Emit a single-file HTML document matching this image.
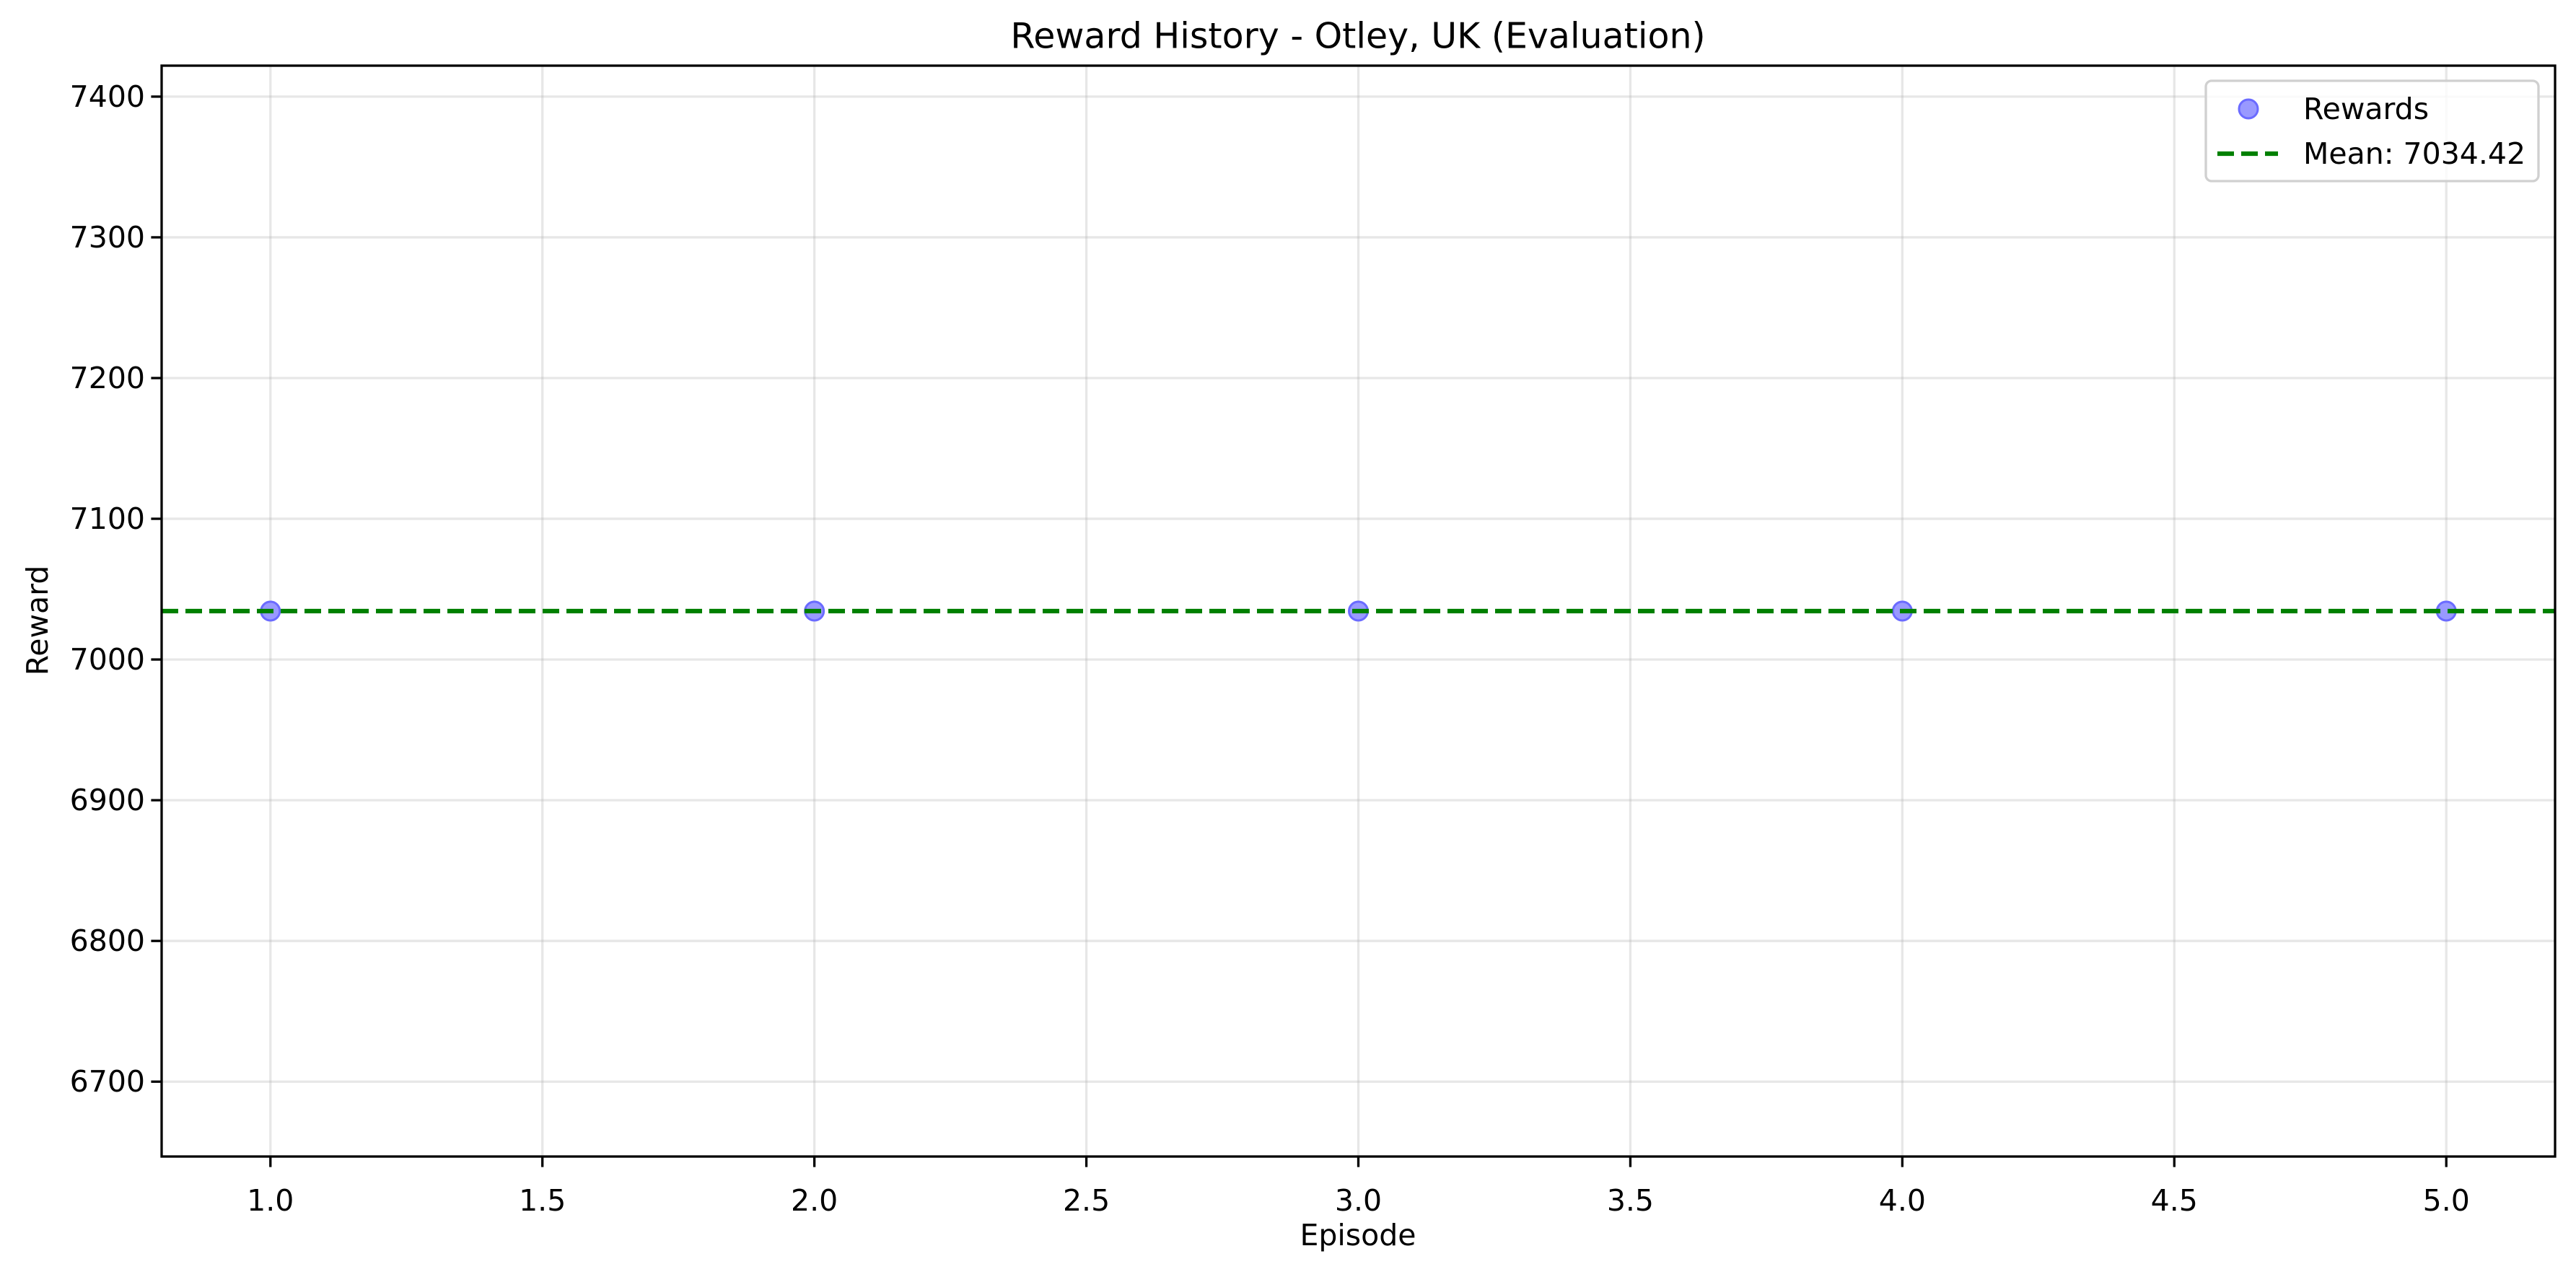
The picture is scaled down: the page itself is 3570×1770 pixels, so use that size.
<!DOCTYPE html>
<html><head><meta charset="utf-8"><style>
html,body{margin:0;padding:0;background:#fff;}
svg text{font-family:"DejaVu Sans","Liberation Sans",sans-serif;fill:#000;}
</style></head><body>
<svg id="chart" width="3570" height="1765" xmlns="http://www.w3.org/2000/svg">
<rect width="3570" height="1765" fill="#fff"/>
<g id="grid"></g>
<g id="marks"></g>
<g id="axes"></g>
<text x="1882" y="50" font-size="49" text-anchor="middle" dominant-baseline="central">Reward History - Otley, UK (Evaluation)</text>
<text x="1882" y="1712" font-size="41" text-anchor="middle" dominant-baseline="central">Episode</text>
<text x="52" y="860" font-size="41" text-anchor="middle" dominant-baseline="central" transform="rotate(-90 52 860)">Reward</text>
<g>
<rect x="3057" y="112" width="461" height="139" rx="8" fill="#fff" fill-opacity="0.8" stroke="#d0d0d0" stroke-width="3.3"/>
<circle cx="3116" cy="151" r="13" fill="#9999ff" stroke="#6b6bff" stroke-width="3"/>
<text x="3192" y="151" font-size="41" dominant-baseline="central">Rewards</text>
<line x1="3073" y1="213" x2="3157" y2="213" stroke="#008000" stroke-width="6.25" stroke-dasharray="23 10"/>
<text x="3192" y="213" font-size="41" dominant-baseline="central">Mean: 7034.42</text>
</g>
</svg>
<script>
const episodes = [1, 2, 3, 4, 5];
const rewards = [7034.42, 7034.42, 7034.42, 7034.42, 7034.42];
const meanValue = 7034.42;
const xTicks = [1.0, 1.5, 2.0, 2.5, 3.0, 3.5, 4.0, 4.5, 5.0];
const xTickLabels = ["1.0","1.5","2.0","2.5","3.0","3.5","4.0","4.5","5.0"];
const yTicks = [6700, 6800, 6900, 7000, 7100, 7200, 7300, 7400];
const yTickLabels = ["6700","6800","6900","7000","7100","7200","7300","7400"];

const L=224, R=3541, T=91, B=1603;
const xMin=0.8, xMax=5.2, yMin=6646.8, yMax=7422.0;
const sx=v=>L+(v-xMin)/(xMax-xMin)*(R-L);
const sy=v=>B-(v-yMin)/(yMax-yMin)*(B-T);
const NS="http://www.w3.org/2000/svg";
function mk(tag,attrs,parent){const e=document.createElementNS(NS,tag);for(const k in attrs)e.setAttribute(k,attrs[k]);parent.appendChild(e);return e;}
const grid=document.getElementById('grid'),marks=document.getElementById('marks'),axes=document.getElementById('axes');

xTicks.forEach((t,i)=>{
  const x=sx(t);
  const g=mk('line',{x1:x,y1:T,x2:x,y2:B,stroke:'#b0b0b0','stroke-opacity':0.3,'stroke-width':3.3},grid);
  
  
  const tk=mk('line',{x1:x,y1:B,x2:x,y2:B+14.6,stroke:'#000','stroke-width':3.3},axes);
  
  
  const tx=mk('text',{x:x,y:1664,'font-size':41,'text-anchor':'middle','dominant-baseline':'central'},axes);
  tx.textContent=xTickLabels[i];
  
  
});
yTicks.forEach((t,i)=>{
  const y=sy(t);
  const g=mk('line',{x1:L,y1:y,x2:R,y2:y,stroke:'#b0b0b0','stroke-opacity':0.3,'stroke-width':3.3},grid);
  
  
  const tk=mk('line',{x1:L-14.6,y1:y,x2:L,y2:y,stroke:'#000','stroke-width':3.3},axes);
  
  
  const tx=mk('text',{x:L-23,y:y,'font-size':41,'text-anchor':'end','dominant-baseline':'central'},axes);
  tx.textContent=yTickLabels[i];
  
  
});
const frame=mk('rect',{x:L,y:T,width:R-L,height:B-T,fill:'none',stroke:'#000','stroke-width':3.3},axes);



episodes.forEach((e,i)=>{
  const c=mk('circle',{cx:sx(e),cy:sy(rewards[i]),r:13,fill:'#9999ff',stroke:'#6b6bff','stroke-width':3},marks);
  
  
});
const ml=mk('line',{x1:L,y1:sy(meanValue),x2:R,y2:sy(meanValue),stroke:'#008000','stroke-width':6.25,'stroke-dasharray':'23 10'},marks);


</script>
</body></html>
